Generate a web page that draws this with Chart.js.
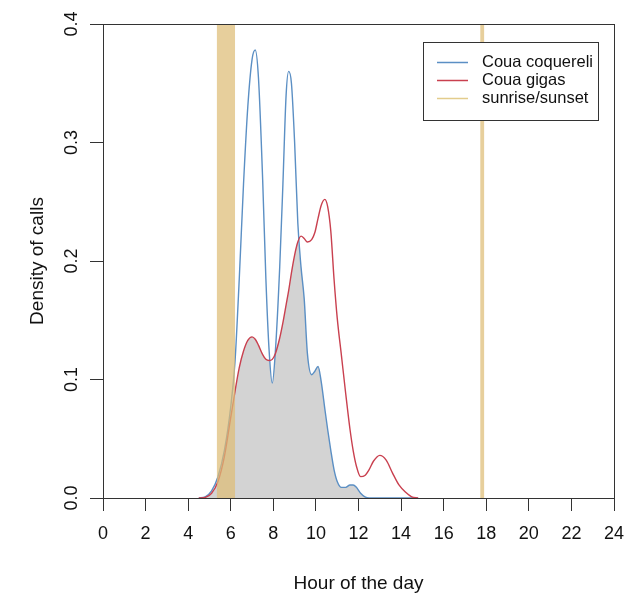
<!DOCTYPE html>
<html>
<head>
<meta charset="utf-8">
<script src="https://cdn.jsdelivr.net/npm/chart.js@4/dist/chart.umd.min.js"></script>
<style>
  html, body { margin: 0; padding: 0; background: #fff; }
</style>
</head>
<body>
<canvas id="myChart" width="627" height="596"></canvas>
<script>
var hours = [4.5, 4.8, 5.1, 5.4, 5.7, 6.0, 6.2, 6.4, 6.6, 6.8, 7.0, 7.15, 7.3, 7.5, 7.65, 7.8, 7.95,
  8.1, 8.3, 8.45, 8.6, 8.72, 8.85, 9.0, 9.15, 9.3, 9.45, 9.6, 9.8, 9.95, 10.1, 10.25, 10.42,
  10.55, 10.7, 10.85, 11.0, 11.2, 11.4, 11.6, 11.75, 11.9, 12.1, 12.3, 12.5, 12.7, 13.0, 13.3,
  13.6, 13.9, 14.2, 14.5, 14.8];
var coquereli = [0, 0.001, 0.006, 0.018, 0.04, 0.077, 0.115, 0.185, 0.265, 0.33, 0.37, 0.378, 0.355, 0.268, 0.185, 0.125, 0.097,
  0.125, 0.195, 0.265, 0.34, 0.36, 0.35, 0.3, 0.232, 0.195, 0.168, 0.122, 0.104, 0.107, 0.111, 0.098, 0.075,
  0.058, 0.04, 0.024, 0.014, 0.009, 0.009, 0.011, 0.011, 0.009, 0.004, 0.001, 0, 0, 0, 0,
  0, 0, 0, 0, 0];
var gigas = [0, 0.0005, 0.004, 0.014, 0.035, 0.068, 0.09, 0.11, 0.124, 0.133, 0.136, 0.134, 0.129, 0.121, 0.117, 0.116, 0.117,
  0.122, 0.135, 0.148, 0.163, 0.175, 0.19, 0.205, 0.216, 0.221, 0.219, 0.216, 0.218, 0.224, 0.236, 0.247, 0.252,
  0.246, 0.225, 0.185, 0.152, 0.12, 0.088, 0.058, 0.04, 0.027, 0.018, 0.019, 0.024, 0.031, 0.036, 0.032,
  0.021, 0.011, 0.005, 0.001, 0];
var sunrise = [5.35, 6.2];
var sunset = [17.72, 17.9];
var legendNames = ["Coua coquereli", "Coua gigas", "sunrise/sunset"];

var blue = '#5b8fc4';
var red = '#c9404f';
var tan = 'rgba(222, 188, 118, 0.72)';
var tanSolid = '#e3cc8c';

function pts(ys) {
  return hours.map(function (h, i) { return { x: h, y: ys[i] }; });
}
var overlap = coquereli.map(function (v, i) { return Math.min(v, gigas[i]); });

var extras = {
  id: 'extras',
  afterDatasetsDraw: function (chart) {
    var ctx = chart.ctx, a = chart.chartArea, x = chart.scales.x;
    ctx.save();
    ctx.fillStyle = tan;
    [sunrise, sunset].forEach(function (b) {
      var x0 = x.getPixelForValue(b[0]), x1 = x.getPixelForValue(b[1]);
      ctx.fillRect(x0, a.top, x1 - x0, a.bottom - a.top);
    });
    ctx.restore();
  },
  afterDraw: function (chart) {
    var ctx = chart.ctx, a = chart.chartArea;
    ctx.save();
    // frame
    ctx.strokeStyle = '#333';
    ctx.lineWidth = 1;
    ctx.strokeRect(a.left + 0.5, a.top + 0.5, a.right - a.left, a.bottom - a.top);
    // legend
    var lx = a.right - 191, ly = a.top + 18, w = 175, h = 78;
    ctx.fillStyle = '#fff';
    ctx.fillRect(lx, ly, w, h);
    ctx.strokeRect(lx + 0.5, ly + 0.5, w, h);
    var cols = [blue, red, tanSolid];
    ctx.font = '16.5px "Liberation Sans", Arial, sans-serif';
    ctx.textBaseline = 'middle';
    for (var i = 0; i < legendNames.length; i++) {
      var yy = ly + 20.5 + i * 18;
      ctx.strokeStyle = cols[i];
      ctx.lineWidth = 1.5;
      ctx.beginPath();
      ctx.moveTo(lx + 14, yy);
      ctx.lineTo(lx + 45, yy);
      ctx.stroke();
      ctx.fillStyle = '#111';
      ctx.fillText(legendNames[i], lx + 59, yy);
    }
    ctx.restore();
  }
};

Chart.defaults.font.family = '"Liberation Sans", Arial, sans-serif';
Chart.defaults.color = '#111';

new Chart("myChart", {
  type: "line",
  data: {
    datasets: [{
      label: 'overlap',
      data: pts(overlap),
      fill: 'origin',
      backgroundColor: 'rgb(211, 211, 211)',
      borderWidth: 0,
      pointRadius: 0,
      cubicInterpolationMode: 'monotone',
      order: 3
    }, {
      label: legendNames[0],
      data: pts(coquereli),
      borderColor: blue,
      borderWidth: 1.4,
      pointRadius: 0,
      fill: false,
      cubicInterpolationMode: 'monotone',
      order: 2
    }, {
      label: legendNames[1],
      data: pts(gigas),
      borderColor: red,
      borderWidth: 1.4,
      pointRadius: 0,
      fill: false,
      cubicInterpolationMode: 'monotone',
      order: 1
    }],
  },
  options: {
    responsive: false,
    animation: false,
    devicePixelRatio: 1,
    layout: { padding: { top: 24, right: 13, left: 0, bottom: 0 } },
    plugins: {
      legend: { display: false },
      tooltip: { enabled: false },
      title: { display: false },
    },
    scales: {
      x: {
        type: 'linear',
        min: 0,
        max: 24,
        ticks: { stepSize: 2, padding: 12, maxRotation: 0, font: { size: 18 }, color: '#111' },
        grid: { drawOnChartArea: false, drawTicks: true, tickLength: 13, color: '#333' },
        border: { display: true, color: '#333' },
        title: { display: true, text: 'Hour of the day', font: { size: 19 }, padding: { top: 0, bottom: 1 }, color: '#111' },
        afterFit: function (s) { s.height = 98; s.paddingLeft = 0; s.paddingRight = 0; }
      },
      y: {
        min: 0,
        max: 0.4,
        ticks: {
          stepSize: 0.1, padding: 5, minRotation: 90, maxRotation: 90, crossAlign: 'center',
          font: { size: 18 }, color: '#111',
          callback: function (v) { return v.toFixed(1); }
        },
        grid: { drawOnChartArea: false, drawTicks: true, tickLength: 13, color: '#333' },
        border: { display: true, color: '#333' },
        title: { display: true, text: 'Density of calls', font: { size: 19 }, padding: { top: 26, bottom: 0 }, color: '#111' },
        afterFit: function (s) { s.width = 103; s.paddingTop = 0; s.paddingBottom = 0; }
      }
    }
  },
  plugins: [extras]
});
</script>
</body>
</html>
